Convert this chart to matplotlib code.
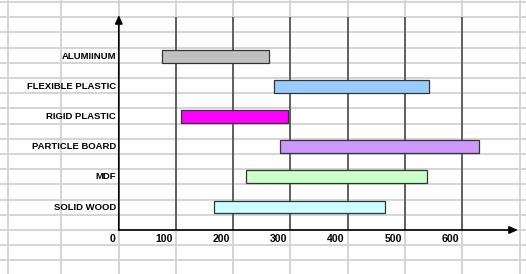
import matplotlib
matplotlib.use("Agg")
import matplotlib.pyplot as plt
import matplotlib.transforms as mtransforms

# floating bars (bottom row first)
materials = ["SOLID WOOD", "MDF", "PARTICLE BOARD", "RIGID PLASTIC",
             "FLEXIBLE PLASTIC", "ALUMIINUM"]
starts = [167, 222, 281, 109, 271, 75]
ends = [465, 538, 629, 295, 542, 262]
colors = ["#ccffff", "#ccffcc", "#cc99ff", "#ff00ff", "#99ccff", "#c0c0c0"]
xticks = [0, 100, 200, 300, 400, 500, 600]

plt.rcParams["font.family"] = ["Liberation Sans", "DejaVu Sans"]

W, H = 526, 274
fig = plt.figure(figsize=(W / 100, H / 100), dpi=100)
fig.patch.set_facecolor("white")

# spreadsheet grid behind the chart
bg = fig.add_axes([0, 0, 1, 1])
bg.set_xlim(0, W)
bg.set_ylim(H, 0)
bg.axis("off")
rows = [2 + 15.2 * k for k in range(18)]
cols = [8, 61, 119, 176, 233, 290, 348, 405, 462, 520]
bg.hlines(rows, 0, W, color="#d4d4d4", lw=1.4)
bg.vlines(cols, 0, H, color="#d4d4d4", lw=1.4)

# chart area in pixel terms
x0_px, px_per_unit = 118.8, 0.572
top_px, bot_px = 17, 230
row_px = 30.1
xmax = (518 - x0_px) / px_per_unit
ymin = -(bot_px - 207) / row_px
ymax = (bot_px - top_px) / row_px + ymin

ax = fig.add_axes([x0_px / W, (H - bot_px) / H,
                   (518 - x0_px) / W, (bot_px - top_px) / H])
ax.patch.set_alpha(0)
ax.set_xlim(0, xmax)
ax.set_ylim(ymin, ymax)
for s in ax.spines.values():
    s.set_visible(False)
ax.set_xticks([])
ax.set_yticks([])

ax.vlines(xticks[1:], ymin, ymax, color="#404040", lw=1.1, zorder=1)

ypos = list(range(len(materials)))
widths = [e - s for s, e in zip(starts, ends)]
ax.barh(ypos, widths, left=starts, height=0.43, color=colors,
        edgecolor="#333333", lw=0.9, zorder=2)

# axes with arrows
y_arrow = (bot_px - 15) / row_px + ymin
ax.annotate("", xy=(0, y_arrow), xytext=(0, ymin), annotation_clip=False,
            arrowprops=dict(arrowstyle="-|>,head_length=0.5,head_width=0.22",
                            mutation_scale=10, color="black", lw=1.2,
                            shrinkA=0, shrinkB=0))
ax.annotate("", xy=(xmax, ymin), xytext=(0, ymin), annotation_clip=False,
            arrowprops=dict(arrowstyle="-|>,head_length=0.5,head_width=0.22",
                            mutation_scale=10, color="black", lw=1.2,
                            shrinkA=0, shrinkB=0))

lab_tr = mtransforms.offset_copy(ax.transData, fig=fig, x=-3, y=0, units="dots")
for y, name in zip(ypos, materials):
    ax.text(0, y, name, transform=lab_tr, ha="right", va="center",
            fontsize=6.8, fontweight="bold", clip_on=False)

tick_tr = mtransforms.offset_copy(ax.transData, fig=fig, x=-3, y=-8.7, units="dots")
for v in xticks:
    ax.text(v, ymin, str(v), transform=tick_tr, ha="right", va="center",
            fontsize=7.6, fontweight="bold", clip_on=False)

fig.savefig("out.png", dpi=100)
